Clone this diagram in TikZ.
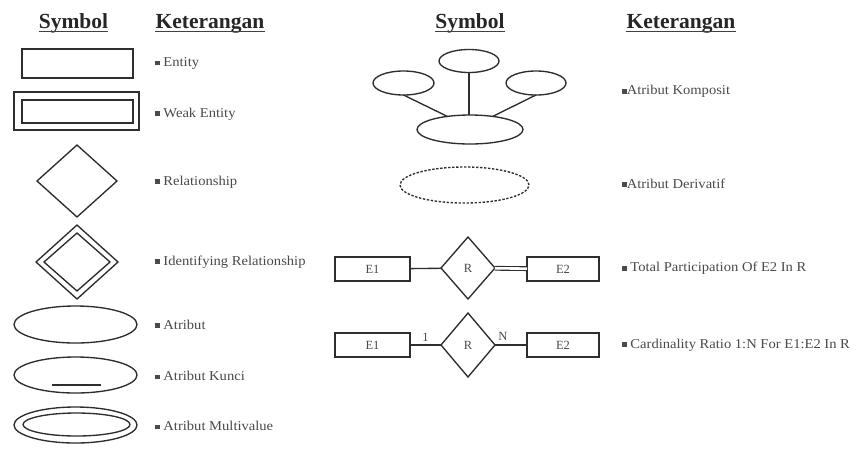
\documentclass[tikz,border=0pt]{standalone}
\usepackage{fontspec}
\setmainfont{Liberation Serif}
\newfontfamily\lblfont[FakeStretch=1.08]{Liberation Serif}
\usetikzlibrary{shapes.geometric}
\newcommand\bulletsq{\rule[0.2ex]{4.6pt}{4.6pt}}
\definecolor{ink}{HTML}{2E2E2E}
\definecolor{txt}{HTML}{4A4A4A}
\tikzset{
  shp/.style={draw=ink, line width=1.35pt, inner sep=0pt, outer sep=0pt},
  box/.style={shp, rectangle, minimum width=#1},
  dia/.style={shp, diamond},
  ell/.style={shp, ellipse},
  hdr/.style={inner sep=0pt, anchor=base, text=black!85,
    font=\fontsize{21.5}{24}\selectfont\bfseries},
  lbl/.style={inner sep=0pt, anchor=west, text=txt,
    font=\lblfont\fontsize{13.5}{16}\selectfont},
  small/.style={inner sep=0pt, text=txt, font=\fontsize{12.5}{14}\selectfont},
  link/.style={draw=ink, line width=1.35pt},
  uline/.style={draw=black!75, line width=1.4pt}
}
\begin{document}
\begin{tikzpicture}[x=1pt, y=-1pt]
\fill[white] (0,0) rectangle (861,448);
\path[use as bounding box] (0,0) rectangle (861,448);

% column headers
\node[hdr] (hs1) at (73.5,28.5) {Symbol};
\node[hdr] (hk1) at (210,28.5) {Keterangan};
\node[hdr] (hs2) at (470,28.5) {Symbol};
\node[hdr] (hk2) at (681,28.5) {Keterangan};
\foreach \h in {hs1,hk1,hs2,hk2}
  \draw[uline] ([yshift=-3.2pt]\h.base west) -- ([yshift=-3.2pt]\h.base east);

% entity
\node[box=111pt, minimum height=29pt] (ent) at (77.5,63.5) {};
\node[lbl] (lent) at (155,63.5) {\bulletsq\ Entity};

% weak entity
\node[box=125pt, minimum height=38pt] (wko) at (76.5,111) {};
\node[box=111pt, minimum height=23pt] (wki) at (77.5,111.5) {};
\node[lbl] (lwk) at (155,114) {\bulletsq\ Weak Entity};

% relationship
\node[dia, minimum width=80pt, minimum height=72pt] (rel) at (77,181) {};
\node[lbl] (lrel) at (155,182) {\bulletsq\ Relationship};

% identifying relationship
\node[dia, minimum width=82pt, minimum height=74pt] (ido) at (77,262) {};
\node[dia, minimum width=66pt, minimum height=58pt] (idi) at (77,262) {};
\node[lbl] (lid) at (155,262) {\bulletsq\ Identifying Relationship};

% attribute
\node[ell, minimum width=123pt, minimum height=37pt] (att) at (75.5,324.5) {};
\node[lbl] (latt) at (155,324.5) {\bulletsq\ Atribut};

% key attribute
\node[ell, minimum width=123pt, minimum height=36pt] (key) at (75.5,375) {};
\draw[link] ([shift={(-23.5,10)}]key.center) -- ([shift={(25.5,10)}]key.center);
\node[lbl] (lkey) at (155,376) {\bulletsq\ Atribut Kunci};

% multivalued attribute
\node[ell, minimum width=123pt, minimum height=36pt] (mvo) at (75.5,425) {};
\node[ell, minimum width=107pt, minimum height=23pt] (mvi) at (76.5,424.5) {};
\node[lbl] (lmv) at (155,426) {\bulletsq\ Atribut Multivalue};

% composite attribute
\node[ell, minimum width=60pt, minimum height=23pt] (ctop) at (469,61) {};
\node[ell, minimum width=61pt, minimum height=24pt] (cleft) at (403.5,83) {};
\node[ell, minimum width=60pt, minimum height=24pt] (cright) at (536,83) {};
\node[ell, minimum width=106pt, minimum height=29pt] (cbot) at (470,129.5) {};
\draw[link] (ctop.south) -- (ctop.south |- cbot.north);
\draw[link] (cleft.south) -- (cbot.150);
\draw[link] (cright.south) -- (cbot.30);
\node[lbl] (lcomp) at (622,91.5) {\bulletsq Atribut Komposit};

% derived attribute
\node[ell, dashed, dash pattern=on 2.4pt off 1.6pt, minimum width=129pt, minimum height=36pt] (der) at (464.5,185) {};
\node[lbl] (lder) at (622,183.5) {\bulletsq Atribut Derivatif};

% total participation
\node[box=75pt, minimum height=24pt, small] (tpa) at (372.5,269) {E1};
\node[dia, minimum width=54pt, minimum height=62pt, small] (tpr) at (468,268) {R};
\node[box=72pt, minimum height=24pt, small] (tpb) at (563,269) {E2};
\draw[link] (tpa) -- (tpr);
\draw[link, double=white, double distance=2.6pt, line width=1.1pt] (tpr) -- (tpb);
\node[lbl] (ltp) at (622,268.5) {\bulletsq\ Total Participation Of E2 In R};

% cardinality ratio
\node[box=75pt, minimum height=24pt, small] (cra) at (372.5,345) {E1};
\node[dia, minimum width=54pt, minimum height=64pt, small] (crr) at (468,345) {R};
\node[box=72pt, minimum height=24pt, small] (crb) at (563,345) {E2};
\draw[link] (cra) -- node[small, above=3pt, pos=0.5] (one) {1} (crr);
\draw[link] (crr) -- node[small, above=4pt, pos=0.25] (many) {N} (crb);
\node[lbl] (lcr) at (622,345) {\bulletsq\ Cardinality Ratio 1:N For E1:E2 In R};
\end{tikzpicture}
\end{document}
